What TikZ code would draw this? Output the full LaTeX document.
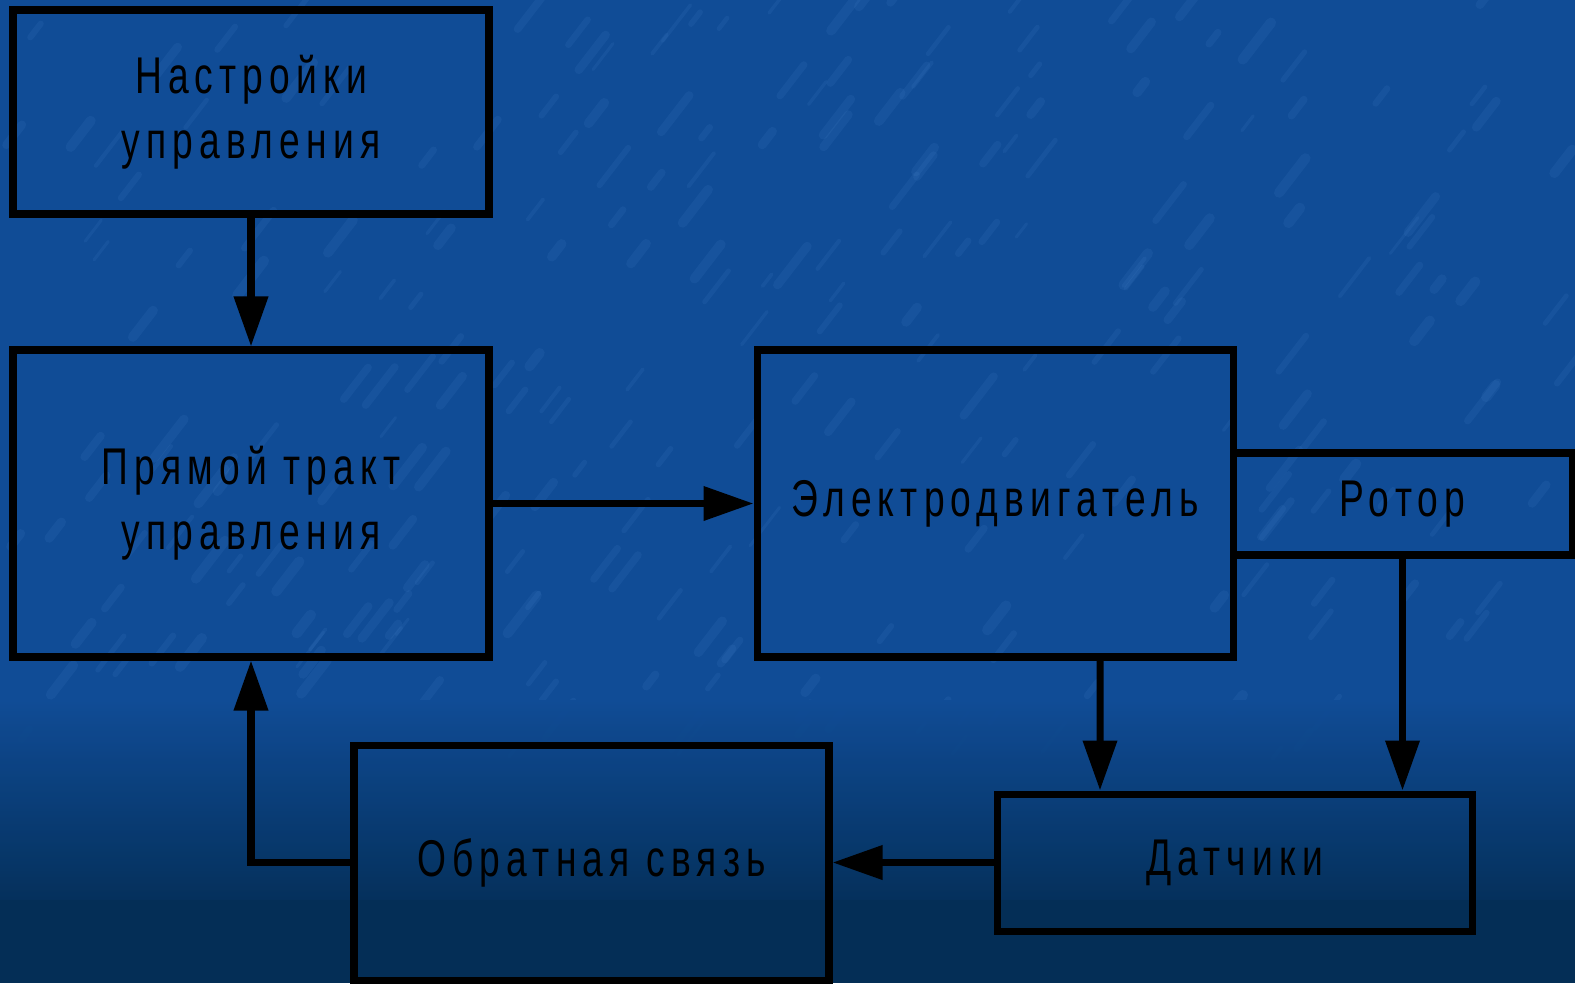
\documentclass[tikz,border=0pt]{standalone}
\usepackage{fontspec}
\setmainfont{Liberation Sans}[FakeStretch=0.72,LetterSpace=12]
\usetikzlibrary{arrows.meta}
\usetikzlibrary{calc}
\definecolor{bgtop}{RGB}{16,76,150}
\definecolor{bgbot}{RGB}{4,46,86}
\definecolor{streak}{RGB}{80,140,210}

\begin{document}
\begin{tikzpicture}[x=0.1mm, y=-0.1mm,
  every node/.style={draw, line width=2pt, rectangle, inner sep=0pt, align=center, font=\fontsize{14.7}{18.5}\selectfont},
  arr/.style={line width=2pt, -{Triangle[length=0.5cm, width=0.33cm]}}]
\useasboundingbox (0,0) rectangle (1575,983);
\fill[bgtop] (0,0) rectangle (1575,983);
\pgfmathsetseed{7}
\foreach \i in {1,...,260} {
  \pgfmathsetmacro\px{rnd*1575}
  \pgfmathsetmacro\py{rnd*760}
  \pgfmathsetmacro\pl{8+rnd*22}
  \pgfmathsetmacro\pw{0.8+rnd*2.2}
  \draw[streak, opacity=0.12, line width=\pw pt, line cap=round] (\px,\py) -- ++(\pl,-1.3*\pl);
}
\shade[top color=bgtop, bottom color=bgbot, opacity=0.9] (0,700) rectangle (1575,900);
\fill[bgbot] (0,900) rectangle (1575,983);
\node[minimum width=4.76cm, minimum height=2.04cm] (N1) at (251,112) {Настройки\\управления};
\node[minimum width=4.76cm, minimum height=3.07cm] (N2) at (251,503.5) {Прямой тракт\\управления};
\node[minimum width=4.76cm, minimum height=3.07cm] (N3) at (995,503.5) {Электродвигатель};
\node[minimum width=3.39cm, minimum height=1.02cm] (N4) at (1402.5,504) {Ротор};
\node[minimum width=4.75cm, minimum height=1.37cm] (N5) at (1234.5,862.5) {Датчики};
\node[minimum width=4.75cm, minimum height=2.35cm] (N6) at (591.5,862.5) {Обратная связь};
\draw[arr] (N1.south) -- (N2.north);
\draw[arr] (N2.east) -- (N3.west);
\draw[arr] ([xshift=1.05cm]N3.south) -- ([xshift=-1.345cm]N5.north);
\draw[arr] (N4.south) -- (N4.south |- N5.north);
\draw[arr] (N5.west) -- (N6.east);
\draw[arr] (N6.west) -| (N2.south);
\end{tikzpicture}
\end{document}
